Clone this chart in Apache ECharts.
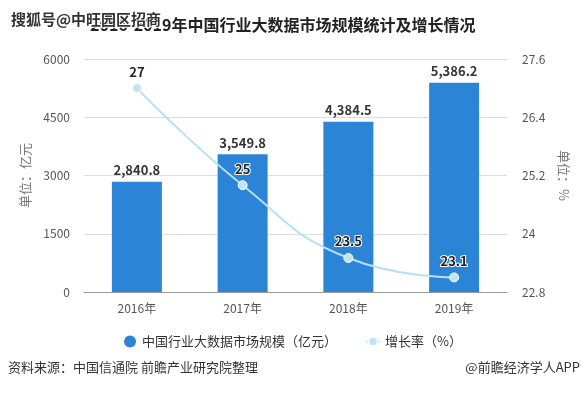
<!DOCTYPE html>
<html><head><meta charset="utf-8">
<script src="https://cdn.jsdelivr.net/npm/echarts@6/dist/echarts.min.js"></script>
<style>html,body{margin:0;padding:0;background:#fff}#c{width:586px;height:393px}</style>
</head><body><div id="c"></div>
<script>
const categories = ['2016年', '2017年', '2018年', '2019年'];
const marketSize = [2840.8, 3549.8, 4384.5, 5386.2];
const growthRate = [27, 25, 23.5, 23.1];
const leftTicks = { min: 0, max: 6000, interval: 1500 };
const rightTicks = { min: 22.8, max: 27.6, interval: 1.2 };

const chart = echarts.init(document.getElementById('c'), null, { renderer: 'canvas' });
const font = '"Microsoft YaHei","Noto Sans CJK SC",sans-serif';
chart.setOption({
  animation: false,
  textStyle: { fontFamily: font },
  title: {
    text: '2016-2019年中国行业大数据市场规模统计及增长情况',
    left: 85, top: 12,
    textStyle: { fontSize: 16, fontWeight: 'bold', color: '#222', fontFamily: font }
  },
  graphic: [
    { type: 'text', left: 10, top: 11, z: 100,
      style: { text: '搜狐号@中旺园区招商', fill: '#333', stroke: '#fff', lineWidth: 2, font: 'bold 15px "Noto Sans CJK SC"' } },
    { type: 'text', left: 8, top: 361,
      style: { text: '资料来源：中国信通院 前瞻产业研究院整理', fill: '#333', font: '13px "Noto Sans CJK SC"' } },
    { type: 'text', right: 6, top: 361,
      style: { text: '@前瞻经济学人APP', fill: '#333', font: '13px "Noto Sans CJK SC"' } }
  ],
  legend: {
    bottom: 40, left: 'center', itemGap: 28,
    itemWidth: 14, itemHeight: 12,
    textStyle: { color: '#333', fontSize: 13, fontFamily: font },
    data: [
      { name: '中国行业大数据市场规模（亿元）', icon: 'circle' },
      { name: '增长率（%）' }
    ]
  },
  grid: { left: 84, right: 79, top: 59, bottom: 101 },
  xAxis: {
    type: 'category', data: categories,
    axisLine: { lineStyle: { color: '#999' } },
    axisTick: { alignWithLabel: true, lineStyle: { color: '#999' } },
    axisLabel: { color: '#555', fontSize: 12, margin: 10 }
  },
  yAxis: [
    { type: 'value', min: leftTicks.min, max: leftTicks.max, interval: leftTicks.interval,
      name: '单位：亿元', nameLocation: 'middle', nameGap: 52, nameRotate: 90,
      nameTextStyle: { color: '#777', fontSize: 13 },
      axisLine: { show: false }, axisTick: { show: false },
      axisLabel: { color: '#555', fontSize: 12, margin: 14, formatter: v => String(v) },
      splitLine: { lineStyle: { color: '#ddd' } } },
    { type: 'value', min: rightTicks.min, max: rightTicks.max, interval: rightTicks.interval,
      name: '单位：%', nameLocation: 'middle', nameGap: 50, nameRotate: -90,
      nameTextStyle: { color: '#777', fontSize: 13 },
      axisLine: { show: false }, axisTick: { show: false },
      axisLabel: { color: '#555', fontSize: 12, margin: 15, formatter: v => String(+v.toFixed(1)) },
      splitLine: { show: false } }
  ],
  series: [
    { name: '中国行业大数据市场规模（亿元）', type: 'bar', data: marketSize, barWidth: 50,
      itemStyle: { color: '#2b84d6' },
      label: { show: true, position: 'top', color: '#333', fontWeight: 'bold', fontSize: 13,
        formatter: p => p.value.toLocaleString('en-US', { minimumFractionDigits: 1, maximumFractionDigits: 1 }) } },
    { name: '增长率（%）', type: 'line', yAxisIndex: 1, data: growthRate, smooth: true,
      symbol: 'circle', symbolSize: 9,
      lineStyle: { color: '#b5e0f4', width: 2 },
      itemStyle: { color: '#bfe4f6', borderColor: '#fff', borderWidth: 1 },
      label: { show: true, position: 'top', color: '#222', fontWeight: 'bold', fontSize: 13,
        textBorderColor: '#fff', textBorderWidth: 2 } }
  ]
});
</script></body></html>
